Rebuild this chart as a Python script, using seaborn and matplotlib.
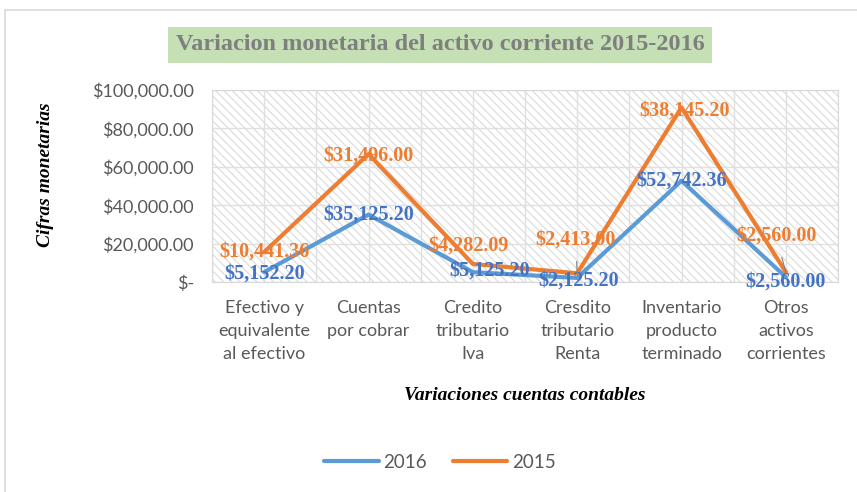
import matplotlib
matplotlib.use("Agg")
import matplotlib.pyplot as plt
from matplotlib.patches import Rectangle
from matplotlib.ticker import FuncFormatter
from matplotlib.lines import Line2D
import seaborn as sns
import pandas as pd
import numpy as np

categories = ["Efectivo y\nequivalente\nal efectivo", "Cuentas\npor cobrar", "Credito\ntributario\nIva",
              "Cresdito\ntributario\nRenta", "Inventario\nproducto\nterminado", "Otros\nactivos\ncorrientes"]
values_2016 = [5152.20, 35125.20, 5125.20, 2125.20, 52742.36, 2560.00]
values_2015 = [10441.36, 31496.00, 4282.09, 2413.00, 38145.20, 2560.00]
yticks = [0, 20000, 40000, 60000, 80000, 100000]

sns.set_style("white")
plt.rcParams['font.family'] = ['Lato', 'DejaVu Sans']
plt.rcParams['hatch.linewidth'] = 0.8

blue = "#5B9BD5"
orange = "#ED7D31"
blue_lbl = "#4472C4"

x = np.arange(len(categories))
stack_2016 = np.array(values_2016)
stack_2015 = stack_2016 + np.array(values_2015)  # stacked line chart
df = pd.DataFrame({"x": np.concatenate([x, x]),
                   "y": np.concatenate([stack_2016, stack_2015]),
                   "serie": ["2016"] * len(x) + ["2015"] * len(x)})

fig = plt.figure(figsize=(8.57, 4.92), dpi=100)
ax = fig.add_axes([212/857, 1-282/492, (838-212)/857, (282-90)/492])

ax.add_patch(Rectangle((0, 0), 1, 1, transform=ax.transAxes, facecolor="white",
                       edgecolor="#dadada", linewidth=0, hatch="\\\\\\\\", zorder=0))

sns.lineplot(data=df, x="x", y="y", hue="serie", palette={"2016": blue, "2015": orange},
             hue_order=["2016", "2015"], linewidth=3.0, ax=ax, legend=False, zorder=3)

ax.set_xlim(-0.5, 5.5)
ax.set_ylim(0, 100000)
ax.set_yticks(yticks)
ax.set_xticks(x)
ax.set_xticks(np.arange(-0.5, 6.0, 1.0), minor=True)
ax.set_xticklabels(categories, linespacing=1.55)
ax.yaxis.set_major_formatter(FuncFormatter(lambda v, p: "$-" if v == 0 else f"${v:,.2f}"))
ax.grid(True, which="both", axis="x", color="#e0e0e0", linewidth=1)
ax.grid(True, which="major", axis="y", color="#e0e0e0", linewidth=1)
ax.set_axisbelow(True)
for s in ax.spines.values():
    s.set_color("#d9d9d9")
ax.tick_params(axis="both", which="both", length=0, colors="#595959", labelsize=13)
ax.tick_params(axis="x", pad=13)
ax.tick_params(axis="y", pad=13)
ax.set_xlabel("Variaciones cuentas contables", family="Liberation Serif", fontweight="bold",
              style="italic", fontsize=14, color="black", labelpad=18)
ax.set_ylabel("Cifras monetarias", family="Liberation Serif", fontweight="bold",
              style="italic", fontsize=14, color="black")
ax.yaxis.set_label_coords(-0.252, 0.56)

lbl_font = dict(family="Liberation Serif", fontweight="bold", fontsize=14.5)
# offsets in points for each label (2016, 2015)
off_2016 = [(0, -1), (0, 0), (12, 1), (1, -2), (0, 0), (0, -3)]
off_2015 = [(0, 0), (0, -1), (-3, 13), (-1, 24), (2, -2), (-7, 26)]
leader_2015 = [False, False, False, True, False, True]
for i in range(len(x)):
    ax.annotate(f"${values_2016[i]:,.2f}", (x[i], stack_2016[i]), xytext=off_2016[i],
                textcoords="offset points", ha="center", va="center", color=blue_lbl,
                zorder=5, **lbl_font)
    ap = dict(arrowstyle="-", color="#808080", lw=0.8, shrinkA=6, shrinkB=0) if leader_2015[i] else None
    ax.annotate(f"${values_2015[i]:,.2f}", (x[i], stack_2015[i]), xytext=off_2015[i],
                textcoords="offset points", ha="center", va="center", color=orange,
                arrowprops=ap, zorder=5, **lbl_font)

# title with green box
fig.text(440/857, 1-45/492, "Variacion monetaria del activo corriente 2015-2016",
         ha="center", va="center", family="Liberation Serif", fontweight="bold",
         fontsize=17.5, color="#7f7f7f",
         bbox=dict(boxstyle="square,pad=0.3", facecolor="#C5E0B4", edgecolor="none"))

# legend
handles = [Line2D([], [], color=blue, lw=3, solid_capstyle="round"),
           Line2D([], [], color=orange, lw=3, solid_capstyle="round")]
leg = fig.legend(handles, ["2016", "2015"], loc="center", bbox_to_anchor=(440/857, 1-462/492),
                 ncol=2, frameon=False, fontsize=13.5, handlelength=2.9, handletextpad=0.25,
                 columnspacing=1.4)
for t in leg.get_texts():
    t.set_color("#595959")

# chart frame
fig.patches.append(Rectangle((5/857, -0.1), 1.1, 1-10/492 + 0.1, transform=fig.transFigure,
                             facecolor="none", edgecolor="#d9d9d9", lw=1.2, zorder=-1))

fig.savefig("out.png", dpi=100)
